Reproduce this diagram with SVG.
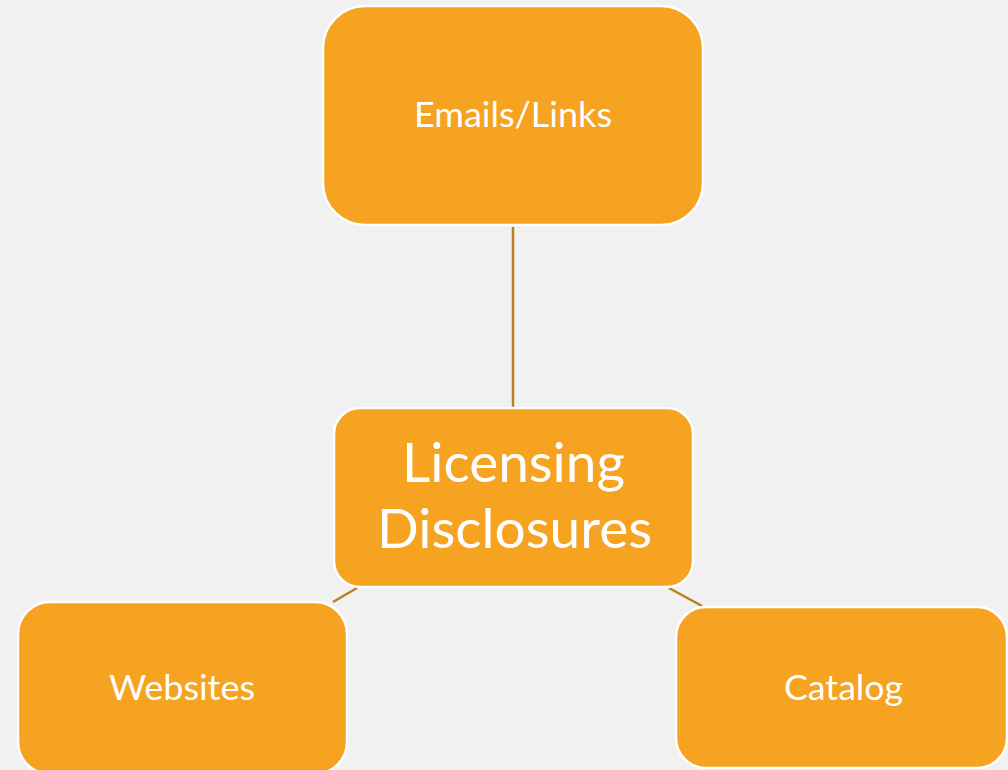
<svg xmlns="http://www.w3.org/2000/svg" width="1008" height="770" viewBox="0 0 1008 770">
<style>
.box{fill:#F5A320;stroke:#FFFFFF;stroke-width:2.5}
.lbl{font-family:Lato,"Open Sans","Liberation Sans",sans-serif;fill:#FFFFFF;text-anchor:middle}
.conn{stroke:#B97F1F;stroke-width:2.5;fill:none}
</style>
<rect x="0" y="0" width="1008" height="770" fill="#F1F1F1"/>
<g id="connectors">
<line class="conn" x1="513" y1="227" x2="513" y2="408"/>
<line class="conn" x1="357" y1="588" x2="333" y2="602"/>
<line class="conn" x1="669" y1="588" x2="702" y2="606"/>
</g>
<g id="node-emails">
<rect class="box" x="323" y="6" width="380" height="219" rx="42" ry="42"/>
<text class="lbl" x="513" y="127" font-size="35" textLength="198" lengthAdjust="spacingAndGlyphs">Emails/Links</text>
</g>
<g id="node-center">
<rect class="box" x="334" y="408" width="359" height="179" rx="26" ry="26"/>
<text class="lbl" x="513.5" y="482" font-size="54" textLength="223" lengthAdjust="spacingAndGlyphs">Licensing</text>
<text class="lbl" x="514.5" y="548" font-size="54" textLength="275" lengthAdjust="spacingAndGlyphs">Disclosures</text>
</g>
<g id="node-websites">
<rect class="box" x="18" y="602" width="329" height="172" rx="32" ry="32"/>
<text class="lbl" x="182" y="700" font-size="35" textLength="146" lengthAdjust="spacingAndGlyphs">Websites</text>
</g>
<g id="node-catalog">
<rect class="box" x="676" y="607" width="331" height="161" rx="30" ry="30"/>
<text class="lbl" x="843.5" y="700" font-size="35" textLength="119" lengthAdjust="spacingAndGlyphs">Catalog</text>
</g>
</svg>
